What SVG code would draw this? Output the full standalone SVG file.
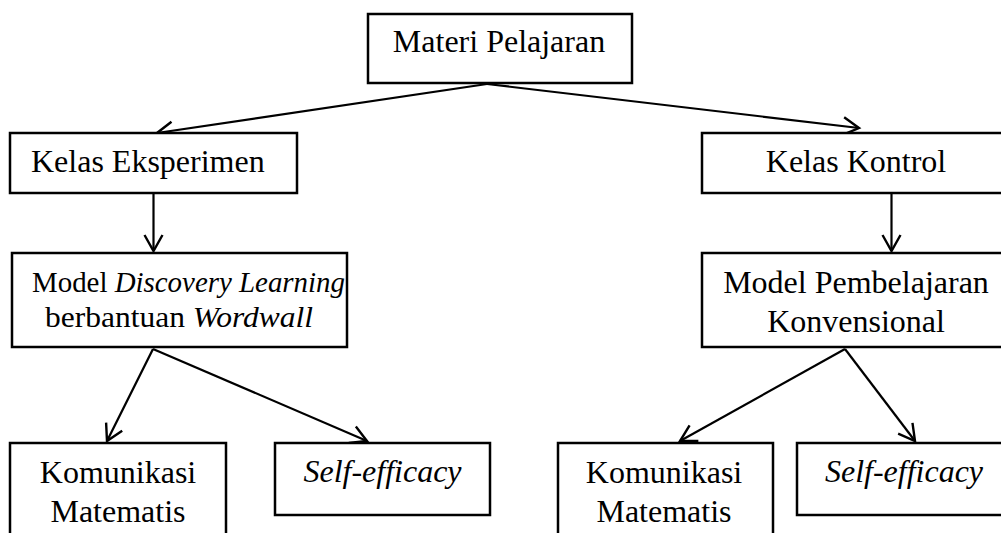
<svg xmlns="http://www.w3.org/2000/svg" width="1001" height="533" viewBox="0 0 1001 533">
<style>
.box{fill:#fff;stroke:#000;stroke-width:2.5}
text{font-family:'Liberation Serif','DejaVu Serif',serif;font-size:32px;fill:#000}
.m{text-anchor:middle}
.i{font-style:italic}
.s{font-size:30px}
.c{stroke:#000;stroke-width:2.2;fill:none}
</style>
<defs>
<marker id="ah" markerUnits="userSpaceOnUse" markerWidth="24" markerHeight="24" viewBox="0 0 24 24" refX="20" refY="12" orient="auto">
<path d="M4,3 L20,12 L4,21" fill="none" stroke="#000" stroke-width="2.4"/>
</marker>
</defs>
<rect width="1001" height="533" fill="#fff"/>
<g id="connectors">
<line class="c" x1="487" y1="84" x2="157" y2="133" marker-end="url(#ah)"/>
<line class="c" x1="487" y1="84" x2="859" y2="128" marker-end="url(#ah)"/>
<line class="c" x1="153.5" y1="193" x2="153.5" y2="251" marker-end="url(#ah)"/>
<line class="c" x1="891.5" y1="193" x2="891.5" y2="251" marker-end="url(#ah)"/>
<line class="c" x1="153" y1="349" x2="107" y2="441" marker-end="url(#ah)"/>
<line class="c" x1="153" y1="349" x2="367" y2="441" marker-end="url(#ah)"/>
<line class="c" x1="845" y1="349" x2="680" y2="441" marker-end="url(#ah)"/>
<line class="c" x1="845" y1="349" x2="915" y2="441" marker-end="url(#ah)"/>
</g>
<g id="materi">
<rect class="box" x="368" y="14" width="264" height="69"/>
<text class="m" x="499" y="52">Materi Pelajaran</text>
</g>
<g id="eksperimen">
<rect class="box" x="10" y="133" width="287" height="60"/>
<text x="31" y="172">Kelas Eksperimen</text>
</g>
<g id="kontrol">
<rect class="box" x="702" y="133" width="310" height="60"/>
<text class="m" x="856" y="172">Kelas Kontrol</text>
</g>
<g id="discovery">
<rect class="box" x="12" y="253" width="335" height="94"/>
<text class="s" x="32" y="292" textLength="313" lengthAdjust="spacingAndGlyphs">Model <tspan class="i">Discovery Learning</tspan></text>
<text class="s" x="45" y="327" textLength="268" lengthAdjust="spacingAndGlyphs">berbantuan <tspan class="i">Wordwall</tspan></text>
</g>
<g id="konvensional">
<rect class="box" x="702" y="253" width="310" height="94"/>
<text class="m" x="856" y="293">Model Pembelajaran</text>
<text class="m" x="856" y="332">Konvensional</text>
</g>
<g id="komunikasi1">
<rect class="box" x="10" y="443" width="216" height="100"/>
<text class="m" x="118" y="483">Komunikasi</text>
<text class="m" x="118" y="522">Matematis</text>
</g>
<g id="self1">
<rect class="box" x="275" y="443" width="215" height="72"/>
<text class="m i" x="382.5" y="482">Self-efficacy</text>
</g>
<g id="komunikasi2">
<rect class="box" x="558" y="443" width="215" height="100"/>
<text class="m" x="664" y="483">Komunikasi</text>
<text class="m" x="664" y="522">Matematis</text>
</g>
<g id="self2">
<rect class="box" x="797" y="443" width="215" height="72"/>
<text class="m i" x="904" y="482">Self-efficacy</text>
</g>
</svg>
